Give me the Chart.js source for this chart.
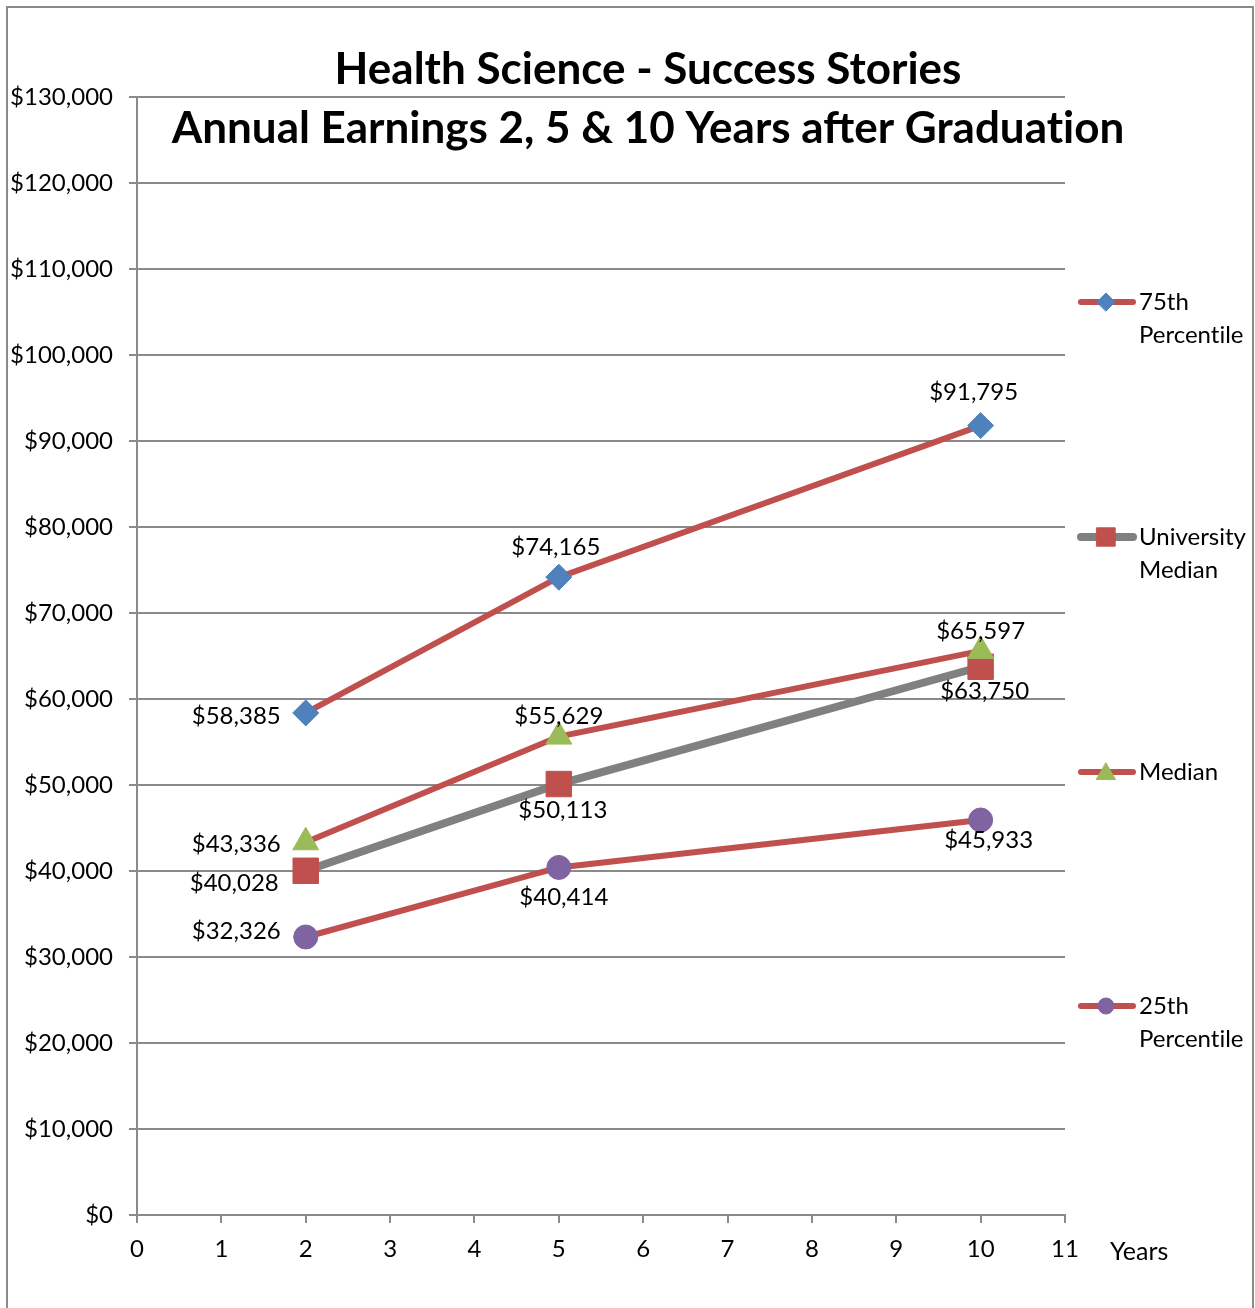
<!DOCTYPE html>
<html>
<head>
<meta charset="utf-8">
<script src="https://cdn.jsdelivr.net/npm/chart.js@4"></script>
<style>
  html, body { margin: 0; padding: 0; background: #fff; }
  #wrap { width: 1255px; height: 1308px; position: relative; }
</style>
</head>
<body>
<div id="wrap"><canvas id="earningsChart" width="1255" height="1308"></canvas></div>
<script>
// data
const years = [2, 5, 10];
const seriesNames = ['75th Percentile', 'University Median', 'Median', '25th Percentile'];
const p75 = [58385, 74165, 91795];
const univMedian = [40028, 50113, 63750];
const median = [43336, 55629, 65597];
const p25 = [32326, 40414, 45933];
const xTicks = [0, 1, 2, 3, 4, 5, 6, 7, 8, 9, 10, 11];
const titleLines = ['Health Science - Success Stories', 'Annual Earnings 2, 5 & 10 Years after Graduation'];

// label placement per point: [dx, dy, align]
const labelPlace = [
	[[-25, 3, 'right'], [-3, -30, 'center'], [-7, -33, 'center']],
	[[-27, 13, 'right'], [4, 26, 'center'], [4, 25, 'center']],
	[[-25, 2, 'right'], [0, -20, 'center'], [0, -20, 'center']],
	[[-25, -6, 'right'], [5, 30, 'center'], [8, 20, 'center']]
];
const legendY = [302, 537, 772, 1006];

const FONT = 'Lato, "Open Sans", sans-serif';
const gridColor = '#8a8a8a';

function fmt(v) {
	return '$' + v.toLocaleString('en-US');
}
function pts(vals) {
	return years.map((y, i) => ({x: y, y: vals[i]}));
}
// keep "ti" from joining into a ligature
function noLig(s) {
	return s.replace(/ti/g, 't\u200Ci');
}

const dataLabels = {
	id: 'dataLabels',
	afterDatasetsDraw(chart) {
		const ctx = chart.ctx;
		ctx.save();
		ctx.font = '24px ' + FONT;
		ctx.fillStyle = '#000';
		ctx.textBaseline = 'middle';
		chart.data.datasets.forEach((ds, di) => {
			const meta = chart.getDatasetMeta(di);
			meta.data.forEach((pt, i) => {
				const p = labelPlace[di][i];
				ctx.textAlign = p[2];
				ctx.fillText(fmt(ds.data[i].y), pt.x + p[0], pt.y + p[1]);
			});
		});
		ctx.restore();
	}
};

const decorations = {
	id: 'decorations',
	beforeDraw(chart) {
		const ctx = chart.ctx;
		ctx.save();
		ctx.fillStyle = '#fff';
		ctx.fillRect(0, 0, chart.width, chart.height);
		ctx.strokeStyle = '#8a8a8a';
		ctx.lineWidth = 2;
		ctx.strokeRect(7, 7, 1246, 1320);
		ctx.restore();
	},
	afterDraw(chart) {
		const ctx = chart.ctx;
		ctx.save();
		// title
		ctx.fillStyle = '#000';
		ctx.font = 'bold 44px ' + FONT;
		ctx.textAlign = 'center';
		ctx.textBaseline = 'middle';
		ctx.fillText(noLig(titleLines[0]), 648, 70);
		ctx.fillText(noLig(titleLines[1]), 648, 129);
		// axis title
		ctx.font = '25px ' + FONT;
		ctx.textAlign = 'left';
		ctx.fillText('Years', 1110, 1252);
		// legend
		chart.data.datasets.forEach((ds, di) => {
			const y = legendY[di];
			ctx.strokeStyle = ds.borderColor;
			ctx.lineWidth = ds.borderWidth;
			ctx.lineCap = 'round';
			ctx.beginPath();
			ctx.moveTo(1081, y);
			ctx.lineTo(1133, y);
			ctx.stroke();
			ctx.fillStyle = ds.pointBackgroundColor;
			ctx.strokeStyle = ds.pointBackgroundColor;
			ctx.lineWidth = 1;
			const r = {rect: 13, triangle: 11, rectRot: 9, circle: 8}[ds.pointStyle];
			Chart.helpers.drawPoint(ctx, {
				pointStyle: ds.pointStyle,
				radius: r,
				rotation: 0,
				borderWidth: 1
			}, 1106, y + (ds.pointStyle === 'triangle' ? 2 : 0));
			ctx.fillStyle = '#000';
			ctx.font = '24px ' + FONT;
			ctx.textAlign = 'left';
			ctx.textBaseline = 'middle';
			const words = seriesNames[di].split(' ');
			ctx.fillText(noLig(words[0]), 1139, y);
			if (words[1]) ctx.fillText(noLig(words[1]), 1139, y + 33);
		});
		ctx.restore();
	}
};

const ctx = document.getElementById('earningsChart').getContext('2d');
const chart = new Chart(ctx, {
	type: 'line',
	data: {
		datasets: [
			{
				label: seriesNames[0], data: pts(p75), order: 3,
				borderColor: '#C0504D', borderWidth: 6,
				pointStyle: 'rectRot', pointRadius: 13,
				pointBackgroundColor: '#4F81BD', pointBorderColor: '#4F81BD', pointBorderWidth: 1
			},
			{
				label: seriesNames[1], data: pts(univMedian), order: 2,
				borderColor: '#808080', borderWidth: 8,
				pointStyle: 'rect', pointRadius: 18,
				pointBackgroundColor: '#C0504D', pointBorderColor: '#C0504D', pointBorderWidth: 1
			},
			{
				label: seriesNames[2], data: pts(median), order: 1,
				borderColor: '#C0504D', borderWidth: 6,
				pointStyle: 'triangle', pointRadius: 15,
				pointBackgroundColor: '#9BBB59', pointBorderColor: '#9BBB59', pointBorderWidth: 1
			},
			{
				label: seriesNames[3], data: pts(p25), order: 0,
				borderColor: '#C0504D', borderWidth: 6,
				pointStyle: 'circle', pointRadius: 12,
				pointBackgroundColor: '#8064A2', pointBorderColor: '#8064A2', pointBorderWidth: 1
			}
		]
	},
	options: {
		responsive: false,
		animation: false,
		layout: { padding: { top: 97, right: 190, bottom: 0, left: 0 } },
		plugins: {
			legend: { display: false },
			tooltip: { enabled: false },
			title: { display: false }
		},
		scales: {
			x: {
				type: 'linear',
				min: 0, max: 11,
				afterFit: s => { s.height = 93; },
				afterBuildTicks: s => { s.ticks = xTicks.map(v => ({value: v})); },
				grid: { drawOnChartArea: false, drawTicks: true, tickLength: 8, color: gridColor, lineWidth: 2 },
				border: { color: gridColor, width: 2 },
				ticks: { color: '#000', font: { family: FONT, size: 24 }, padding: 12 }
			},
			y: {
				min: 0, max: 130000,
				afterFit: s => { s.width = 137; },
				grid: { tickLength: 8, color: gridColor, lineWidth: 2 },
				border: { color: gridColor, width: 2 },
				ticks: {
					stepSize: 10000,
					color: '#000',
					font: { family: FONT, size: 24 },
					padding: 16,
					callback: v => fmt(v)
				}
			}
		}
	},
	plugins: [decorations, dataLabels]
});
</script>
</body>
</html>
